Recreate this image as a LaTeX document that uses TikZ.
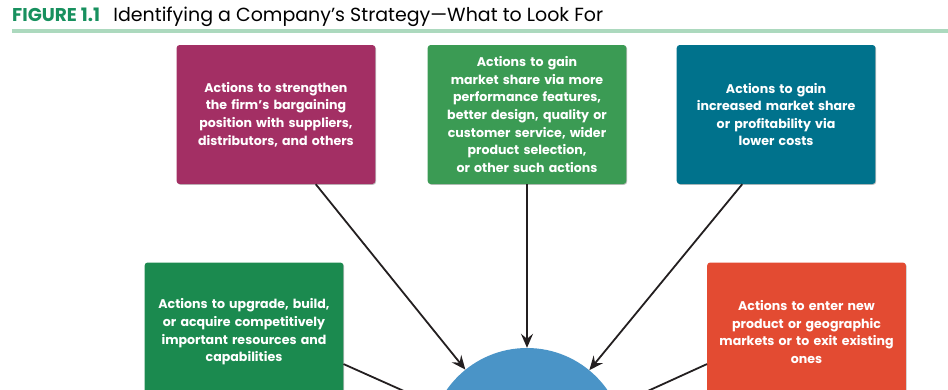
\documentclass[tikz,border=0pt]{standalone}
\usepackage{fontspec}
\setsansfont{Poppins}
\usetikzlibrary{arrows.meta, positioning, calc, shadows}

\definecolor{figgreen}{HTML}{17905E}
\definecolor{rulegreen}{HTML}{ACD9BE}
\definecolor{cardmagenta}{HTML}{A32F64}
\definecolor{cardgreen}{HTML}{3B9B54}
\definecolor{cardteal}{HTML}{00728C}
\definecolor{carddeep}{HTML}{1B8A4F}
\definecolor{cardred}{HTML}{E34B32}
\definecolor{coreblue}{HTML}{4A94C7}
\definecolor{arrowink}{HTML}{231F20}

\begin{document}
\begin{tikzpicture}[
        x=1pt, y=-1pt,
        node distance=52pt and 52pt, % gaps between the top cards
        card/.style={rectangle, rounded corners=3pt, minimum width=197pt, minimum height=139pt,
            text width=192pt, align=center, text=white,
            font=\sffamily\bfseries\fontsize{12.6}{17.6}\selectfont,
            drop shadow={shadow xshift=0.8pt, shadow yshift=-0.8pt, opacity=0.25, fill=black}},
        arrow/.style={line width=1.8pt, draw=arrowink, -{Stealth[length=14pt, width=12pt, inset=5pt]}},
        heading/.style={inner sep=0pt, anchor=base west, font=\sffamily\fontsize{19}{22}\selectfont}
    ]
    \clip (0,0) rectangle (948,389);

    % --- Title ---
    \node[heading, text=figgreen, font=\sffamily\bfseries\fontsize{18.5}{22}\selectfont] (fig) at (12,21) {FIGURE 1.1};
    \node[heading] (title) at ($(fig.base east)+(13,0)$) {Identifying a Company’s Strategy—What to Look For};
    \draw[rulegreen, line width=4pt] (12,31) -- (948,31);

    % --- Nodes ---
    \node[card, fill=cardgreen] (features) at (527,114.5) {Actions to gain\\market share via more\\performance features,\\better design, quality or\\customer service, wider\\product selection,\\or other such actions};
    \node[card, fill=cardmagenta, left=of features] (bargain) {Actions to strengthen\\the firm’s bargaining\\position with suppliers,\\distributors, and others};
    \node[card, fill=cardteal, right=50pt of features] (costs) {Actions to gain\\increased market share\\or profitability via\\lower costs};
    \node[card, fill=carddeep] (upgrade) at (244,332) {Actions to upgrade, build,\\or acquire competitively\\important resources and\\capabilities};
    \node[card, fill=cardred] (markets) at (806.5,332) {Actions to enter new\\product or geographic\\markets or to exit existing\\ones};

    % 中心的圆（大部分在画面之外）
    \node[circle, fill=coreblue, minimum size=196pt, inner sep=0pt] (core) at (527,446) {};

    % --- Edges ---
    \draw[arrow] ($(bargain.south west)!0.7!(bargain.south east)$) -- (core);
    \draw[arrow] (features) -- (core);
    \draw[arrow] ($(costs.south west)!0.33!(costs.south east)$) -- (core);
    \draw[arrow] ($(upgrade.north east)!0.73!(upgrade.south east)$) -- (core);
    \draw[arrow] ($(markets.north west)!0.73!(markets.south west)$) -- (core);

\end{tikzpicture}
\end{document}
